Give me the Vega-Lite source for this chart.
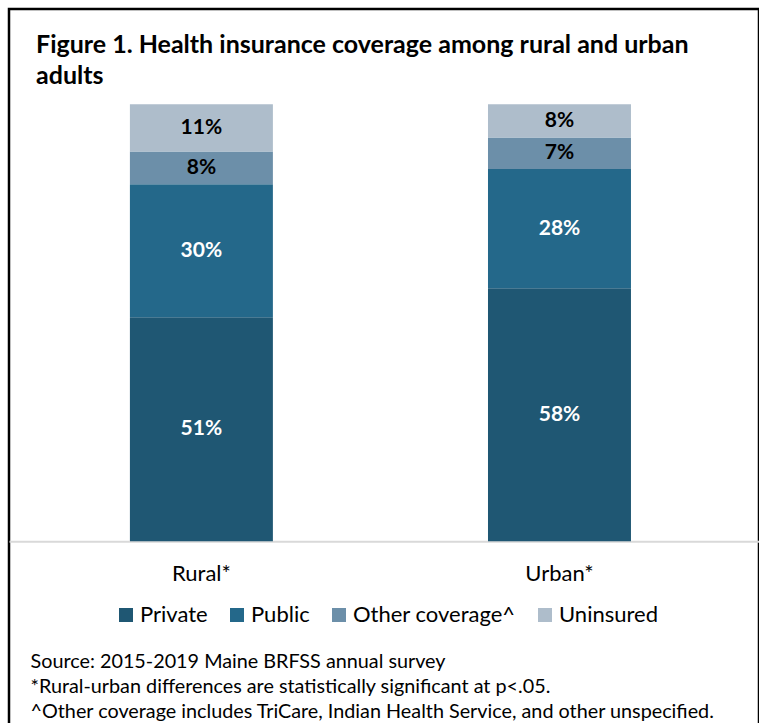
{
  "$schema": "https://vega.github.io/schema/vega-lite/v6.json",
  "width": 750,
  "height": 730,
  "autosize": {"type": "none"},
  "padding": {"left": 9, "top": 9, "right": 0, "bottom": 0},
  "background": "white",
  "config": {"font": "Lato", "view": {"stroke": "black", "strokeWidth": 2.5}},
  "title": {
    "text": ["Figure 1. Health insurance coverage among rural and urban", "adults"],
    "anchor": "start",
    "frame": "group",
    "orient": "top",
    "offset": 0,
    "dx": 27,
    "dy": 80.5,
    "baseline": "top",
    "font": "Lato",
    "fontSize": 25,
    "fontWeight": "bold",
    "lineHeight": 31.6,
    "color": "black"
  },
  "data": {
    "values": [
      {"area": "Rural*", "type": "Private", "pct": 51.3, "label": "51%"},
      {"area": "Rural*", "type": "Public", "pct": 30.4, "label": "30%"},
      {"area": "Rural*", "type": "Other coverage^", "pct": 7.5, "label": "8%"},
      {"area": "Rural*", "type": "Uninsured", "pct": 10.8, "label": "11%"},
      {"area": "Urban*", "type": "Private", "pct": 57.9, "label": "58%"},
      {"area": "Urban*", "type": "Public", "pct": 27.3, "label": "28%"},
      {"area": "Urban*", "type": "Other coverage^", "pct": 7.2, "label": "7%"},
      {"area": "Urban*", "type": "Uninsured", "pct": 7.6, "label": "8%"}
    ]
  },
  "transform": [{"stack": "pct", "groupby": ["area"], "as": ["v0", "v1"]}],
  "encoding": {
    "x": {
      "field": "area",
      "type": "nominal",
      "sort": null,
      "scale": {"paddingInner": 0.6007, "paddingOuter": 0.3476, "align": 0.4857, "round": false},
      "axis": {
        "orient": "bottom",
        "offset": -197.7,
        "grid": false,
        "domainColor": "#d9d9d9",
        "domainWidth": 2,
        "ticks": false,
        "tickSize": 0,
        "labelAngle": 0,
        "labelFont": "Lato",
        "labelFontSize": 22,
        "labelColor": "black",
        "labelBaseline": "alphabetic",
        "labelPadding": 39,
        "title": [
          "Source: 2015-2019 Maine BRFSS annual survey",
          "*Rural-urban differences are statistically significant at p<.05.",
          "^Other coverage includes TriCare, Indian Health Service, and other unspecified."
        ],
        "titleX": 21,
        "titleY": 126,
        "titleAlign": "left",
        "titleBaseline": "alphabetic",
        "titleFont": "Lato",
        "titleFontSize": 19.8,
        "titleFontWeight": "normal",
        "titleColor": "black",
        "titleLineHeight": 25,
        "titleLimit": 800
      }
    }
  },
  "layer": [
    {
      "mark": {"type": "bar"},
      "encoding": {
        "y": {
          "field": "v0",
          "type": "quantitative",
          "scale": {"domain": [-45.24, 121.81], "nice": false, "zero": false},
          "axis": null
        },
        "y2": {"field": "v1"},
        "color": {
          "field": "type",
          "type": "nominal",
          "scale": {
            "domain": ["Private", "Public", "Other coverage^", "Uninsured"],
            "range": ["#1f5773", "#24688a", "#6c8fa9", "#aebdcb"]
          },
          "legend": {
            "title": null,
            "orient": "none",
            "legendX": 106,
            "legendY": 595,
            "direction": "horizontal",
            "columns": 4,
            "padding": 0,
            "symbolType": "square",
            "symbolSize": 196,
            "symbolStrokeWidth": 0,
            "symbolOpacity": 1,
            "labelFont": "Lato",
            "labelFontSize": 22,
            "labelColor": "black",
            "labelOffset": 3,
            "labelLimit": 400,
            "columnPadding": 18
          }
        }
      }
    },
    {
      "transform": [
        {"fold": ["v0", "v1"], "as": ["edge", "bound"]},
        {"aggregate": [{"op": "sum", "field": "bound", "as": "boundSum"}], "groupby": ["area", "type", "label"]}
      ],
      "mark": {"type": "text", "font": "Lato", "fontSize": 21, "fontWeight": "bold", "baseline": "middle", "align": "center"},
      "encoding": {
        "y": {
          "field": "boundSum",
          "type": "quantitative",
          "scale": {"domain": [-90.48, 243.62], "nice": false, "zero": false},
          "axis": null
        },
        "text": {"field": "label"},
        "fill": {
          "condition": {"test": "datum.type === 'Private' || datum.type === 'Public'", "value": "white"},
          "value": "black"
        }
      }
    }
  ],
  "resolve": {"scale": {"y": "independent"}}
}
